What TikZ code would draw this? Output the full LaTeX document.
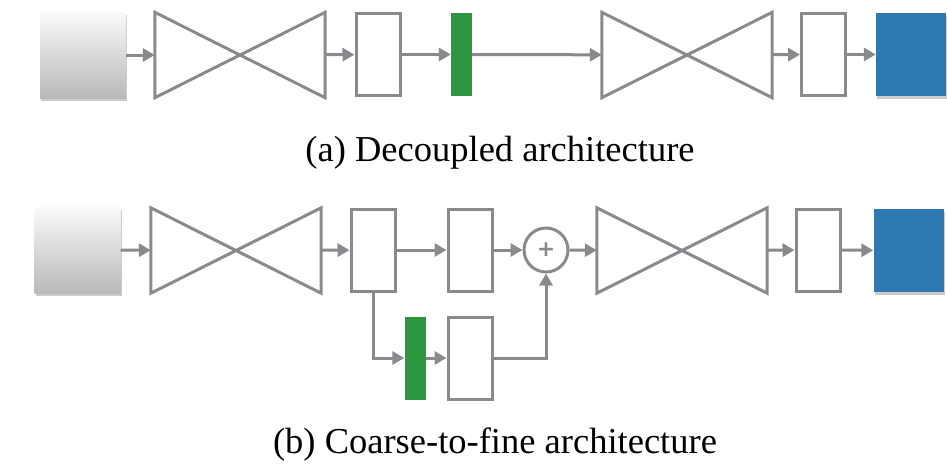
\documentclass[tikz,border=0pt]{standalone}
\usepackage{fontspec}
\setmainfont{Liberation Serif}
\newfontfamily\plusfont{DejaVu Sans}
\usepackage{tikz}
\usetikzlibrary{shapes.geometric, arrows.meta, shadows}
\definecolor{linegray}{RGB}{138,138,142}
\definecolor{codegreen}{RGB}{46,150,64}
\definecolor{outblue}{RGB}{46,122,176}
\tikzstyle{inputnode} = [rectangle, inner sep=0pt, minimum width=86pt, minimum height=86pt, top color=gray!4, bottom color=gray!55, draw=none, drop shadow={opacity=0.4, shadow xshift=1pt, shadow yshift=-2.5pt}]
\tikzstyle{outputnode} = [rectangle, inner sep=0pt, minimum width=70pt, minimum height=83pt, fill=outblue, draw=none, drop shadow={opacity=0.4, shadow xshift=1pt, shadow yshift=-2.5pt}]
\tikzstyle{hourglass} = [rectangle, inner sep=0pt, minimum width=170pt, minimum height=85pt]
\tikzstyle{featnode} = [rectangle, inner sep=0pt, minimum width=44pt, minimum height=82pt, draw=linegray, line width=3pt, fill=white]
\tikzstyle{codenode} = [rectangle, inner sep=0pt, minimum width=21pt, minimum height=83pt, fill=codegreen, draw=none]
\tikzstyle{sumnode} = [circle, inner sep=0pt, minimum size=44pt, draw=linegray, line width=3pt, text=linegray, font=\plusfont\bfseries\fontsize{22}{22}\selectfont]
\tikzstyle{arrow} = [draw=linegray, line width=3pt, -{Triangle[length=12pt, width=13pt]}]
\tikzstyle{caption} = [font=\fontsize{36.5}{42}\selectfont, anchor=base]
\newcommand{\drawhourglass}[1]{\draw[draw=linegray, line width=3pt, line join=miter] (#1.north west) -- (#1.south east) -- (#1.north east) -- (#1.south west) -- cycle;}

\begin{document}
\begin{tikzpicture}[x=1pt, y=-1pt]
    \useasboundingbox (0,0) rectangle (947,469);

    % (a) decoupled
    \node (in1) [inputnode] at (83,55) {};
    \node (enc1) [hourglass] at (240,55) {};
    \node (fa1) [featnode] at (378,54.5) {};
    \node (code1) [codenode] at (461.5,54.5) {};
    \node (dec1) [hourglass] at (687,55) {};
    \node (fb1) [featnode] at (823.5,54.5) {};
    \node (out1) [outputnode] at (911,54.5) {};
    \drawhourglass{enc1}
    \drawhourglass{dec1}

    \draw [arrow] (in1) -- (enc1);
    \draw [arrow] (enc1) -- (fa1);
    \draw [arrow] (fa1) -- (code1);
    \draw [arrow] (code1) -- (dec1);
    \draw [arrow] (dec1) -- (fb1);
    \draw [arrow] (fb1) -- (out1);

    \node (capa) [caption] at (500,161) {(a) Decoupled architecture};

    % (b) coarse-to-fine
    \node (in2) [inputnode] at (77.5,250) {};
    \node (enc2) [hourglass] at (236,250.5) {};
    \node (fa2) [featnode] at (373,250) {};
    \node (fc2) [featnode] at (470,250) {};
    \node (sum) [sumnode] at (546,250) {+};
    \node (dec2) [hourglass] at (682,250.5) {};
    \node (fb2) [featnode] at (818,250) {};
    \node (out2) [outputnode] at (908.5,250.5) {};
    \node (code2) [codenode] at (415,358) {};
    \node (fd2) [featnode] at (470,358) {};
    \drawhourglass{enc2}
    \drawhourglass{dec2}

    \draw [arrow] (in2) -- (enc2);
    \draw [arrow] (enc2) -- (fa2);
    \draw [arrow] (fa2) -- (fc2);
    \draw [arrow] (fc2) -- (sum);
    \draw [arrow] (sum) -- (dec2);
    \draw [arrow] (dec2) -- (fb2);
    \draw [arrow] (fb2) -- (out2);
    \draw [arrow] (fa2.south) |- (code2.west);
    \draw [arrow] (code2) -- (fd2);
    \draw [arrow] (fd2.east) -| (sum.south);

    \node (capb) [caption] at (495,453) {(b) Coarse-to-fine architecture};
\end{tikzpicture}
\end{document}
